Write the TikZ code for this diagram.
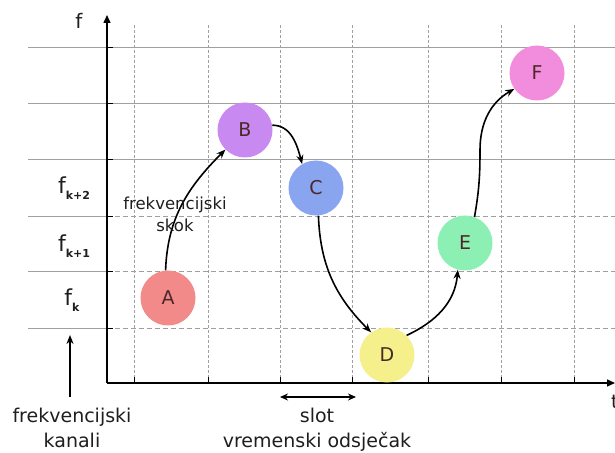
\documentclass[tikz,border=0pt]{standalone}
\usepackage{fontspec}
\setmainfont{DejaVu Sans}
\usetikzlibrary{arrows.meta}
\definecolor{gridgray}{RGB}{160,160,160}
\definecolor{lettercol}{RGB}{75,40,40}
\definecolor{textcol}{RGB}{30,30,30}
\definecolor{colA}{RGB}{242,138,138}
\definecolor{colB}{RGB}{200,138,240}
\definecolor{colC}{RGB}{138,165,240}
\definecolor{colD}{RGB}{245,240,140}
\definecolor{colE}{RGB}{140,240,180}
\definecolor{colF}{RGB}{242,140,220}
\begin{document}
\begin{tikzpicture}[x=1pt,y=1pt,
  state/.style={circle,minimum size=55pt,inner sep=0pt,font=\fontsize{19}{19}\selectfont,text=lettercol},
  hop/.style={-{Stealth[length=9pt,width=7pt]},line width=1.6pt,black},
  axis/.style={line width=1.4pt,black,-{Triangle[length=8pt,width=7pt]}},
  lbl/.style={font=\fontsize{19}{25}\selectfont,text=textcol,align=center},
  smalllbl/.style={font=\fontsize{16.5}{22}\selectfont,text=textcol,align=center},
  solidgrid/.style={gridgray,line width=0.8pt},
  dashgrid/.style={gridgray,line width=0.8pt,dash pattern=on 5pt off 3pt},
  vgrid/.style={gridgray,line width=0.7pt,dash pattern=on 3pt off 2pt},
]
\useasboundingbox (0,0) rectangle (615,452);
% grid
\foreach \y in {405,349,293} \draw[solidgrid] (28,\y) -- (615,\y);
\foreach \y in {236,181,124} {
  \draw[solidgrid] (28,\y) -- (107,\y);
  \draw[dashgrid] (107,\y) -- (615,\y);
}
\foreach \x in {134,208,280,352,428,501,574} {
  \draw[vgrid] (\x,427) -- (\x,69);
  \draw[black,line width=0.8pt] (\x,69) -- (\x,75);
}
\foreach \y in {405,349,293,236,181,124} \draw[black,line width=0.8pt] (107,\y) -- (113,\y);
% axes
\coordinate (O) at (107,69);
\coordinate (ytop) at (107,437);
\coordinate (xend) at (615,69);
\draw[axis] (O) -- (ytop);
\draw[axis] (O) -- (xend);
\node[lbl,font=\fontsize{20}{20}\selectfont] (f) at (79,431) {f};
\node[lbl,anchor=west,inner sep=0pt] (t) at (611,50) {t};
\node[lbl,font=\fontsize{22}{22}\selectfont] (fk2) at (74,264) {f\raisebox{-0.55ex}{\fontsize{11}{11}\selectfont\bfseries k+2}};
\node[lbl,font=\fontsize{22}{22}\selectfont] (fk1) at (74,206) {f\raisebox{-0.55ex}{\fontsize{11}{11}\selectfont\bfseries k+1}};
\node[lbl,font=\fontsize{22}{22}\selectfont] (fk) at (72,152) {f\raisebox{-0.55ex}{\fontsize{11}{11}\selectfont\bfseries k}};
% states
\node[state,fill=colA] (A) at (168,154) {A};
\node[state,fill=colB] (B) at (245,322) {B};
\node[state,fill=colC] (C) at (316,264) {C};
\node[state,fill=colD] (D) at (387,97) {D};
\node[state,fill=colE] (E) at (465,209) {E};
\node[state,fill=colF] (F) at (537,379) {F};
% hops
\draw[hop] (A.95) to[out=88,in=225] (B.225);
\draw[hop] (B.10) to[out=0,in=105] (C.120);
\draw[hop] (C.275) to[out=-88,in=135] (D.125);
\draw[hop] (D.45) to[out=25,in=-95] (E.255);
\coordinate (w) at (480,302);
\draw[hop] (E.70) to[out=80,in=-90] (w) to[out=90,in=210] (F.215);
\node[smalllbl] (skok) at (175,238) {frekvencijski\\skok};
% bottom
\coordinate (kb) at (70,55);
\coordinate (kt) at (70,117);
\draw[line width=1.6pt,-{Stealth[length=9pt,width=7pt]}] (kb) -- (kt);
\node[lbl] (kan) at (72,24) {frekvencijski\\kanali};
\coordinate (s1) at (280,55);
\coordinate (s2) at (356,55);
\draw[line width=1.6pt,{Stealth[length=8pt,width=7pt]}-{Stealth[length=8pt,width=7pt]}] (s1) -- (s2);
\node[lbl] (slot) at (317,22) {slot\\vremenski odsječak};
\end{tikzpicture}
\end{document}
